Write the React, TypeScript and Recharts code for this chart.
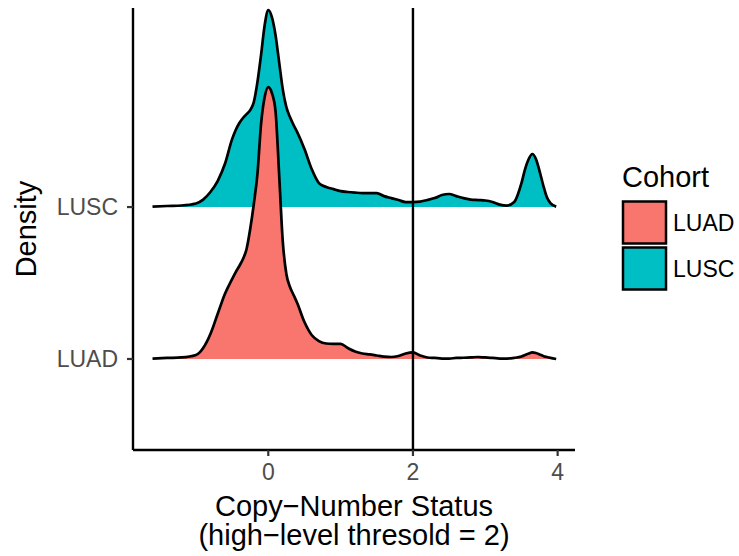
import React from 'react';
import { Area, ComposedChart, Legend, ReferenceLine, XAxis, YAxis } from 'recharts';

// copy-number positions where the ridge heights were read
const COPY_NUMBER = [
  -1.6, -1.4, -1.2, -1.0, -0.9, -0.8, -0.7, -0.6, -0.5, -0.45, -0.4, -0.35, -0.3, -0.25,
  -0.2, -0.15, -0.1, -0.05, 0, 0.05, 0.1, 0.15, 0.2, 0.25, 0.3, 0.35, 0.4, 0.5, 0.6, 0.7,
  0.8, 0.9, 1.0, 1.1, 1.2, 1.3, 1.4, 1.5, 1.6, 1.7, 1.8, 1.9, 2.0, 2.1, 2.2, 2.3, 2.4, 2.5,
  2.6, 2.7, 2.8, 2.9, 3.0, 3.1, 3.2, 3.3, 3.4, 3.5, 3.55, 3.6, 3.65, 3.7, 3.75, 3.8, 3.85,
  3.9, 3.98,
];

// ridge heights (1 = one row spacing)
const LUSC_DENSITY = [
  0.003, 0.007, 0.01, 0.023, 0.049, 0.099, 0.171, 0.283, 0.447, 0.507, 0.553, 0.586, 0.612,
  0.638, 0.691, 0.822, 1.0, 1.197, 1.296, 1.25, 1.132, 0.954, 0.776, 0.658, 0.592, 0.539,
  0.493, 0.382, 0.25, 0.158, 0.132, 0.118, 0.105, 0.099, 0.095, 0.092, 0.092, 0.092, 0.072,
  0.059, 0.046, 0.033, 0.033, 0.036, 0.046, 0.059, 0.079, 0.086, 0.072, 0.059, 0.049, 0.046,
  0.043, 0.033, 0.016, 0.01, 0.033, 0.158, 0.25, 0.316, 0.349, 0.316, 0.237, 0.145, 0.066,
  0.026, 0.003,
];

const LUAD_DENSITY = [
  0.003, 0.007, 0.01, 0.026, 0.072, 0.164, 0.296, 0.428, 0.526, 0.572, 0.612, 0.658, 0.724,
  0.855, 1.02, 1.217, 1.546, 1.724, 1.789, 1.75, 1.632, 1.217, 0.776, 0.559, 0.474, 0.421,
  0.368, 0.243, 0.158, 0.118, 0.102, 0.099, 0.099, 0.072, 0.049, 0.036, 0.03, 0.023, 0.016,
  0.013, 0.02, 0.036, 0.043, 0.023, 0.01, 0.007, 0.003, 0.003, 0.007, 0.008, 0.01, 0.013,
  0.01, 0.007, 0.003, 0.003, 0.007, 0.016, 0.026, 0.036, 0.043, 0.039, 0.03, 0.02, 0.013,
  0.007, 0,
];

const COHORTS = ['LUAD', 'LUSC'];
const COHORT_COLORS = ['#F8766D', '#00BFC4'];
const X_TICKS = [0, 2, 4];
const THRESHOLD = 2;

const FONT = '"Liberation Sans", Arial, Helvetica, sans-serif';

const data = COPY_NUMBER.map((x, i) => ({
  x,
  LUAD: 1 + LUAD_DENSITY[i],
  LUSC: 2 + LUSC_DENSITY[i],
}));

function XTitle({ viewBox }: any) {
  const cx = viewBox.x + viewBox.width / 2;
  return (
    <text textAnchor="middle" fontFamily={FONT} fontSize={29} fill="#000">
      <tspan x={cx} y={516}>Copy−Number Status</tspan>
      <tspan x={cx} y={545}>(high−level thresold = 2)</tspan>
    </text>
  );
}

function YTitle({ viewBox }: any) {
  const cy = viewBox.y + viewBox.height / 2;
  return (
    <text
      x={36}
      y={cy}
      transform={`rotate(-90, 36, ${cy})`}
      textAnchor="middle"
      fontFamily={FONT}
      fontSize={29}
      fill="#000"
    >
      Density
    </text>
  );
}

function CohortLegend() {
  return (
    <svg width={125} height={140} style={{ display: 'block' }}>
      <text x={10} y={27} fontFamily={FONT} fontSize={29} fill="#000">
        Cohort
      </text>
      {COHORTS.map((c, i) => (
        <g key={c}>
          <rect
            x={11}
            y={41.5 + i * 46}
            width={43}
            height={42}
            fill={COHORT_COLORS[i]}
            stroke="#000"
            strokeWidth={2.5}
          />
          <text x={61} y={70.5 + i * 46} fontFamily={FONT} fontSize={23} fill="#000">
            {c}
          </text>
        </g>
      ))}
    </svg>
  );
}

export default function App() {
  return (
    <div style={{ position: 'absolute', left: 0, top: 0, background: '#fff' }}>
      <ComposedChart
        width={739}
        height={556}
        data={data}
        margin={{ top: 8, right: 164, bottom: 0, left: 0 }}
      >
        <XAxis
          dataKey="x"
          type="number"
          domain={[-1.87, 4.24]}
          ticks={X_TICKS}
          allowDataOverflow
          height={106}
          axisLine={{ stroke: '#000', strokeWidth: 2.4 }}
          tickLine={{ stroke: '#333', strokeWidth: 2.2 }}
          tickSize={6}
          tickMargin={8}
          tick={{ fill: '#4D4D4D', fontSize: 23, fontFamily: FONT }}
          label={{ content: XTitle }}
        />
        <YAxis
          type="number"
          domain={[0.401, 3.31]}
          ticks={[1, 2]}
          allowDataOverflow
          width={133}
          tickFormatter={(v: number) => COHORTS[v - 1]}
          axisLine={{ stroke: '#000', strokeWidth: 2.4 }}
          tickLine={{ stroke: '#333', strokeWidth: 2.2 }}
          tickSize={6}
          tickMargin={9}
          tick={{ fill: '#4D4D4D', fontSize: 23, fontFamily: FONT }}
          label={{ content: YTitle }}
        />
        <Area
          dataKey="LUSC"
          baseValue={2}
          type="monotone"
          fill={COHORT_COLORS[1]}
          fillOpacity={1}
          stroke="#000"
          strokeWidth={2.7}
          dot={false}
          activeDot={false}
          isAnimationActive={false}
        />
        <Area
          dataKey="LUAD"
          baseValue={1}
          type="monotone"
          fill={COHORT_COLORS[0]}
          fillOpacity={1}
          stroke="#000"
          strokeWidth={2.7}
          dot={false}
          activeDot={false}
          isAnimationActive={false}
        />
        <ReferenceLine x={THRESHOLD} stroke="#000" strokeWidth={2.4} />
        <Legend
          layout="vertical"
          align="center"
          verticalAlign="middle"
          wrapperStyle={{ left: 612, top: 160, width: 125 }}
          content={CohortLegend}
        />
      </ComposedChart>
    </div>
  );
}
